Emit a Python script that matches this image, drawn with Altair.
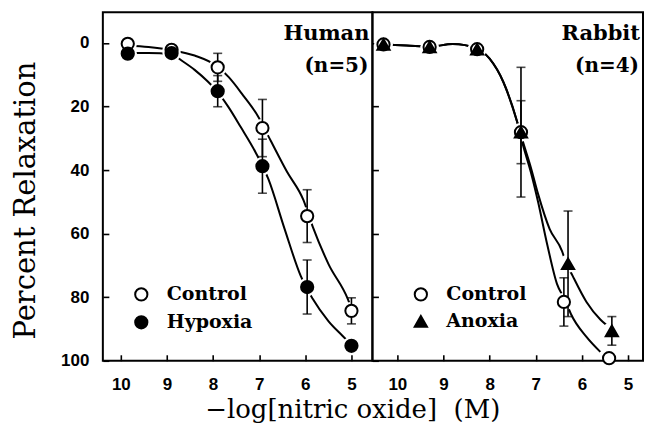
import altair as alt
import pandas as pd

# ---------------- data ----------------
# Human panel (n=5)
human_x = [9.85, 8.9, 7.9, 6.93, 5.96, 5.0]
human_control = [0.3, 2.2, 7.7, 26.8, 54.5, 84.3]
human_control_err = [0, 0, 4.4, 9.0, 8.3, 4.1]
human_hypoxia = [3.4, 3.2, 15.2, 38.8, 76.8, 95.3]
human_hypoxia_err = [0, 0, 4.9, 8.5, 8.5, 0]

human_control_curve_x = [9.85, 9.4, 8.9, 8.4, 7.9, 7.66, 7.35, 7.03, 6.75, 6.4, 6.04, 5.84, 5.5, 5.08, 5.0]
human_control_curve_y = [0.8, 1.3, 2.3, 4.0, 7.5, 10.8, 16.5, 23.0, 30.8, 40.5, 49.5, 57.8, 69.5, 80.5, 83.5]
human_hypoxia_curve_x = [9.85, 9.4, 8.9, 8.66, 8.4, 8.12, 7.9, 7.68, 7.4, 7.08, 6.8, 6.45, 6.1, 5.84, 5.5, 5.19, 5.0]
human_hypoxia_curve_y = [3.2, 3.2, 3.6, 5.8, 8.5, 12.1, 15.5, 19.9, 26.5, 34.4, 42.9, 58.5, 73.3, 80.5, 87.5, 92.2, 95.0]

# Rabbit panel (n=4)
rabbit_control_x = [10.3, 9.3, 8.27, 7.32, 6.39, 5.41]
rabbit_control = [0.5, 1.3, 2.0, 28.1, 81.5, 99.2]
rabbit_control_err = [0, 0, 0, 20.4, 7.6, 0]
rabbit_anoxia_x = [10.3, 9.3, 8.27, 7.32, 6.30, 5.35]
rabbit_anoxia = [0.5, 1.3, 2.0, 28.1, 69.5, 90.6]
rabbit_anoxia_err = [0, 0, 0, 9.9, 16.6, 4.5]

rabbit_control_curve_x = [10.3, 9.8, 9.3, 8.8, 8.27, 8.0, 7.7, 7.4, 7.28, 7.1, 6.95, 6.75, 6.54, 6.36, 6.24, 5.9, 5.6]
rabbit_control_curve_y = [0.5, 0.8, 1.2, 0.4, 1.8, 5.0, 12.4, 25.0, 32.0, 41.0, 50.0, 63.5, 75.8, 81.0, 85.2, 92.5, 97.2]
rabbit_anoxia_curve_x = [10.3, 9.8, 9.3, 8.8, 8.27, 8.0, 7.7, 7.4, 7.28, 7.1, 6.95, 6.7, 6.43, 6.36, 6.2, 5.9, 5.6, 5.35]
rabbit_anoxia_curve_y = [0.5, 0.8, 1.2, 0.4, 1.8, 5.0, 12.4, 25.0, 31.0, 39.5, 47.5, 58.5, 65.5, 68.5, 73.3, 81.5, 87.0, 90.0]

tick_values_x = [5, 6, 7, 8, 9, 10]
tick_values_y = [0, 10, 20, 30, 40, 50, 60, 70, 80, 90, 100]

SERIF = "DejaVu Serif"
SANS = "Liberation Sans"


def points_df(series):
    rows = []
    for rank, (name, xs, ys, es) in enumerate(series):
        for x, y, e in zip(xs, ys, es):
            rows.append({"x": x, "y": y, "err": e, "lo": y - e, "hi": y + e,
                         "series": name, "rank": rank})
    return pd.DataFrame(rows)


def curve_df(series):
    rows = []
    for name, xs, ys in series:
        for x, y in zip(xs, ys):
            rows.append({"x": x, "y": y, "series": name})
    return pd.DataFrame(rows)


def panel(pts, crv, order, shapes, fills, xdom, width, height, left, labels, legend_x):
    xscale = alt.Scale(domain=xdom, reverse=True, nice=False, zero=False)
    yscale = alt.Scale(domain=[-9.6, 100], reverse=True, nice=False, zero=False)
    if left:
        xaxis = alt.Axis(values=tick_values_x, format="d", offset=-6, domain=False, tickSize=6,
                         labelPadding=16, title="\u2212log[nitric oxide]\u00a0\u00a0(M)",
                         titleFont=SERIF, titleFontSize=26, titleFontWeight="normal",
                         titleAlign="left", titleAnchor="start", titleX=102, titleY=63,
                         titleBaseline="alphabetic")
        yaxis = alt.Axis(values=tick_values_y, offset=-6, domain=False, tickSize=6,
                         labelPadding=14,
                         labelExpr="datum.value % 20 === 0 ? datum.label : ''",
                         title="Percent Relaxation", titleFont=SERIF, titleFontSize=29,
                         titleFontWeight="normal", titleX=-68, titleY=188, titleAlign="center",
                         titleBaseline="bottom")
    else:
        xaxis = alt.Axis(values=tick_values_x, format="d", offset=-6, domain=False, tickSize=6,
                         labelPadding=16, title=None)
        yaxis = alt.Axis(values=tick_values_y, offset=-6, domain=False, tickSize=6,
                         labels=False, title=None)

    X = alt.X("x:Q", scale=xscale, axis=xaxis)
    Y = alt.Y("y:Q", scale=yscale, axis=yaxis)

    curves = alt.Chart(crv).mark_line(color="black", strokeWidth=2, interpolate="monotone").encode(
        x=X, y=Y, detail="series:N")

    halo = alt.Chart(pts).mark_circle(color="white", opacity=1, size=340).encode(
        x=alt.X("x:Q", scale=xscale), y=alt.Y("y:Q", scale=yscale)
    ).transform_filter("datum.y < 98")

    bars = alt.Chart(pts).mark_rule(color="black", strokeWidth=1.6).encode(
        x=alt.X("x:Q", scale=xscale), y=alt.Y("lo:Q", scale=yscale), y2="hi:Q"
    ).transform_filter("datum.err > 0")
    cap_lo = alt.Chart(pts).mark_tick(color="black", orient="horizontal", size=9, thickness=1.6).encode(
        x=alt.X("x:Q", scale=xscale), y=alt.Y("lo:Q", scale=yscale)
    ).transform_filter("datum.err > 0")
    cap_hi = alt.Chart(pts).mark_tick(color="black", orient="horizontal", size=9, thickness=1.6).encode(
        x=alt.X("x:Q", scale=xscale), y=alt.Y("hi:Q", scale=yscale)
    ).transform_filter("datum.err > 0")

    leg = alt.Legend(title=None, orient="none", legendX=legend_x, legendY=273)
    marks = alt.Chart(pts).mark_point(filled=True, strokeWidth=2, size=150, opacity=1).encode(
        x=alt.X("x:Q", scale=xscale),
        y=alt.Y("y:Q", scale=yscale),
        shape=alt.Shape("series:N", scale=alt.Scale(domain=order, range=shapes), legend=leg),
        fill=alt.Fill("series:N", scale=alt.Scale(domain=order, range=fills), legend=leg),
        stroke=alt.Stroke("series:N", scale=alt.Scale(domain=order, range=["black", "black"]), legend=leg),
        order=alt.Order("rank:Q", sort="ascending"),
    )

    t1 = alt.Chart(pd.DataFrame({"a": [0]})).mark_text(
        text=labels[0], align="right", baseline="alphabetic", font=SERIF, fontWeight="bold",
        fontSize=21, color="black").encode(x=alt.value(width - 3), y=alt.value(28))
    t2 = alt.Chart(pd.DataFrame({"a": [0]})).mark_text(
        text=labels[1], align="right", baseline="alphabetic", font=SERIF, fontWeight="bold",
        fontSize=20, color="black").encode(x=alt.value(width - 4), y=alt.value(60))

    return alt.layer(curves, halo, bars, cap_lo, cap_hi, marks, t1, t2).properties(
        width=width, height=height)


human_pts = points_df([
    ("Control", human_x, human_control, human_control_err),
    ("Hypoxia", human_x, human_hypoxia, human_hypoxia_err),
])
human_crv = curve_df([
    ("Control", human_control_curve_x, human_control_curve_y),
    ("Hypoxia", human_hypoxia_curve_x, human_hypoxia_curve_y),
])
rabbit_pts = points_df([
    ("Control", rabbit_control_x, rabbit_control, rabbit_control_err),
    ("Anoxia", rabbit_anoxia_x, rabbit_anoxia, rabbit_anoxia_err),
])
rabbit_crv = curve_df([
    ("Control", rabbit_control_curve_x, rabbit_control_curve_y),
    ("Anoxia", rabbit_anoxia_curve_x, rabbit_anoxia_curve_y),
])

left = panel(human_pts, human_crv, ["Control", "Hypoxia"], ["circle", "circle"], ["white", "black"],
             [4.545, 10.39], 270, 349, True, ["Human", "(n=5)"], 29)
right = panel(rabbit_pts, rabbit_crv, ["Control", "Anoxia"], ["circle", "triangle-up"], ["white", "black"],
              [4.675, 10.54], 271, 349, False, ["Rabbit", "(n=4)"], 39)

chart = alt.hconcat(left, right, spacing=0, bounds="flush").resolve_scale(
    shape="independent", fill="independent", stroke="independent"
).resolve_legend(shape="independent", fill="independent", stroke="independent").properties(
    padding={"left": 3, "top": 3, "right": 0, "bottom": 0}
).configure_view(
    stroke="black", strokeWidth=2
).configure_axis(
    grid=False, tickColor="black", tickWidth=1.6, labelColor="black", titleColor="black",
    labelFont=SANS, labelFontWeight="bold", labelFontSize=17
).configure_legend(
    labelFont=SERIF, labelFontWeight="bold", labelFontSize=19, labelColor="black",
    symbolStrokeWidth=2, symbolSize=150, labelOffset=16,
    rowPadding=7, padding=0
)

chart.save("out.html", embed_options={"renderer": "svg", "actions": False})
